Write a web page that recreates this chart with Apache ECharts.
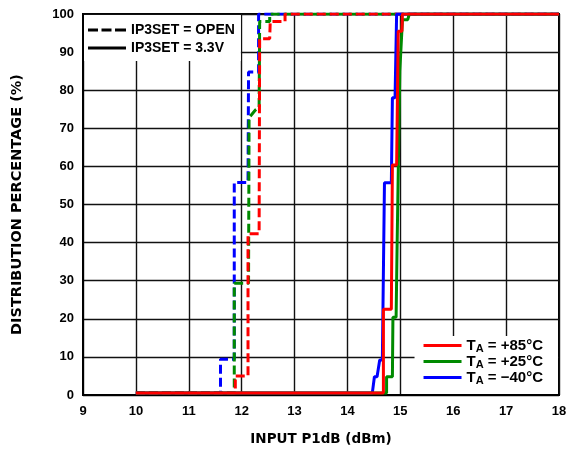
<!DOCTYPE html>
<html>
<head>
<meta charset="utf-8">
<script src="https://cdn.jsdelivr.net/npm/echarts@6/dist/echarts.min.js"></script>
<style>
html,body{margin:0;padding:0;background:#fff;}
#chart{width:578px;height:451px;}
</style>
</head>
<body>
<div id="chart"></div>
<script>
// Step curves: [x (dBm), y (%)]
var xTicks = [9, 10, 11, 12, 13, 14, 15, 16, 17, 18];
var yTicks = [0, 10, 20, 30, 40, 50, 60, 70, 80, 90, 100];

var openBlueX  = [10, 11.60, 11.60, 11.86, 11.86, 12.12, 12.13, 12.32, 12.32, 18];
var openBlueY  = [0.5, 0.5, 9.4, 9.4, 55.8, 55.8, 84.8, 84.8, 100, 100];

var openGreenX = [10, 11.86, 11.86, 12.13, 12.14, 12.26, 12.33, 12.34, 12.53, 12.53, 18];
var openGreenY = [0.5, 0.5, 29.3, 29.3, 72.8, 74.8, 75.5, 98, 98, 100, 100];

var openRedX   = [10, 11.88, 11.88, 12.12, 12.12, 12.33, 12.34, 12.53, 12.54, 12.82, 12.82, 18];
var openRedY   = [0.5, 0.5, 5, 5, 42.3, 42.3, 93.5, 93.5, 98, 98, 100, 100];

var v33BlueX   = [10, 14.47, 14.51, 14.56, 14.61, 14.66, 14.70, 14.83, 14.85, 14.90, 14.93, 18];
var v33BlueY   = [0.5, 0.5, 4.8, 4.8, 9.2, 9.2, 55.7, 55.7, 78, 78, 100, 100];

var v33GreenX  = [10, 14.74, 14.74, 14.85, 14.86, 14.92, 14.94, 14.99, 15.04, 15.14, 15.17, 18];
var v33GreenY  = [0.5, 0.5, 4.8, 4.8, 20.4, 20.4, 40, 85, 98.5, 98.5, 100, 100];

var v33RedX    = [10, 14.68, 14.68, 14.83, 14.85, 14.93, 14.96, 15.03, 15.04, 18];
var v33RedY    = [0.5, 0.5, 22.5, 22.5, 60.4, 60.4, 95.5, 95.5, 100, 100];

var styleNames = ['IP3SET = OPEN', 'IP3SET = 3.3V'];
var tempNames  = ['TA = +85°C', 'TA = +25°C', 'TA = −40°C'];
var tempColors = ['#ff0000', '#008a00', '#0000ff'];

function pts(xs, ys) { return xs.map(function (x, i) { return [x, ys[i]]; }); }

var FONT = '"Liberation Sans", Arial, sans-serif';
var NAMEFONT = '"DejaVu Sans", "Liberation Sans", sans-serif';
var DASH = [9, 4];
var ICON_SOLID = 'path://M0,0h38v3h-38z';
var ICON_DASH = 'path://M0,0h10v3h-10z M13.5,0h10v3h-10z M27,0h11v3h-11z';

function curve(name, xs, ys, color, dashed) {
  return {
    name: name, type: 'line', data: pts(xs, ys), symbol: 'none',
    lineStyle: { color: color, width: 3, type: dashed ? DASH : 'solid', cap: 'butt' },
    itemStyle: { color: color },
    animation: false, z: dashed ? 2 : 3
  };
}
function legendDummy(name, color) {
  return {
    name: name, type: 'line', data: [], symbol: 'none',
    lineStyle: { color: color, width: 3 },
    itemStyle: { color: color }, animation: false
  };
}

var chart = echarts.init(document.getElementById('chart'), null, { renderer: 'canvas' });
chart.setOption({
  backgroundColor: '#fff',
  animation: false,
  grid: { left: 83, right: 19, top: 14, bottom: 56, show: true, borderColor: '#000', borderWidth: 2 },
  xAxis: {
    type: 'value', min: xTicks[0], max: xTicks[xTicks.length - 1], interval: 1,
    name: 'INPUT P1dB (dBm)', nameLocation: 'middle', nameGap: 37,
    nameTextStyle: { fontFamily: NAMEFONT, fontWeight: 'bold', fontSize: 13.5, color: '#000' },
    axisLine: { show: true, lineStyle: { color: '#000', width: 2 } },
    axisTick: { show: false },
    axisLabel: { fontFamily: FONT, fontWeight: 'bold', fontSize: 13, color: '#000', margin: 10 },
    splitLine: { show: true, lineStyle: { color: '#111', width: 1.4 } }
  },
  yAxis: {
    type: 'value', min: yTicks[0], max: yTicks[yTicks.length - 1], interval: 10,
    name: 'DISTRIBUTION PERCENTAGE (%)', nameLocation: 'middle', nameGap: 58,
    nameTextStyle: { fontFamily: NAMEFONT, fontWeight: 'bold', fontSize: 14.5, color: '#000' },
    axisLine: { show: true, lineStyle: { color: '#000', width: 2 } },
    axisTick: { show: false },
    axisLabel: { fontFamily: FONT, fontWeight: 'bold', fontSize: 13, color: '#000', margin: 9 },
    splitLine: { show: true, lineStyle: { color: '#111', width: 1.4 } }
  },
  legend: [
    {
      data: [{ name: styleNames[0], icon: ICON_DASH }, { name: styleNames[1], icon: ICON_SOLID }],
      orient: 'vertical', left: 84, top: 15,
      backgroundColor: '#fff', padding: [7, 6, 5, 4], itemGap: 2,
      itemWidth: 38, itemHeight: 3, z: 10, selectedMode: false,
      textStyle: { fontFamily: FONT, fontWeight: 'bold', fontSize: 14, color: '#000', lineHeight: 16 }
    },
    {
      data: tempNames.map(function (n) { return { name: n, icon: ICON_SOLID }; }),
      orient: 'vertical', right: 20, bottom: 57,
      backgroundColor: '#fff', padding: [2, 15, 8, 9], itemGap: 0,
      itemWidth: 38, itemHeight: 3, z: 10, selectedMode: false,
      formatter: function (n) { return '{t|T}{s|A}{t|' + n.slice(2) + '}'; },
      textStyle: {
        fontFamily: FONT, fontWeight: 'bold', fontSize: 15, color: '#000',
        rich: {
          t: { fontFamily: FONT, fontWeight: 'bold', fontSize: 15, color: '#000', lineHeight: 17 },
          s: { fontFamily: FONT, fontWeight: 'bold', fontSize: 11, color: '#000', verticalAlign: 'bottom', lineHeight: 5 }
        }
      }
    }
  ],
  series: [
    legendDummy(styleNames[0], '#000'),
    legendDummy(styleNames[1], '#000'),
    legendDummy(tempNames[0], tempColors[0]),
    legendDummy(tempNames[1], tempColors[1]),
    legendDummy(tempNames[2], tempColors[2]),
    curve('open -40', openBlueX, openBlueY, tempColors[2], true),
    curve('open +25', openGreenX, openGreenY, tempColors[1], true),
    curve('open +85', openRedX, openRedY, tempColors[0], true),
    curve('3.3V -40', v33BlueX, v33BlueY, tempColors[2], false),
    curve('3.3V +25', v33GreenX, v33GreenY, tempColors[1], false),
    curve('3.3V +85', v33RedX, v33RedY, tempColors[0], false)
  ]
});
</script>
</body>
</html>
